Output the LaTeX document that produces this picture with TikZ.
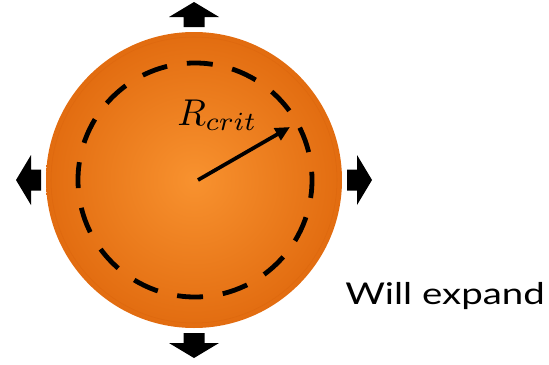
\RequirePackage{fix-cm}
\documentclass[tikz,border=0pt]{standalone}
\usepackage{fontspec}
\newfontfamily\labelfont[FakeStretch=1.28]{Lato}
\usetikzlibrary{arrows.meta,calc}
\definecolor{blobin}{HTML}{F8922F}
\definecolor{blobout}{HTML}{E26C10}
\definecolor{blobring}{HTML}{D9650E}
\tikzset{
  blockarrow/.style={fill=black,draw=none},
  critline/.style={line width=3.6pt,dash pattern=on 19.5pt off 14.95pt,dash phase=6pt},
  radiusarrow/.style={line width=2.8pt,-{Triangle[length=11pt,width=10pt]}}
}
\begin{document}
\begin{tikzpicture}[x=0.75pt,y=-0.75pt]
\useasboundingbox (0,0) rectangle (549,364);
\coordinate (centre) at (194,180);
\shade[inner color=blobin,outer color=blobout] (centre) circle (148);
\draw[blobring,line width=0.4pt,opacity=0.6] (centre) circle (143);
\draw[critline] (195,180) circle (117);
\foreach \ang in {0,90,180,270}
  \fill[blockarrow,rotate around={\ang:(centre)}]
    ($(centre)+(-10.5,-153)$) -- ++(0,-10) -- ++(-14.5,0) -- ($(centre)+(0,-178)$)
    -- ($(centre)+(25,-163)$) -- ++(-14.5,0) -- ++(0,10) -- cycle;
\coordinate (rim) at (290,127);
\draw[radiusarrow] (198,180) -- (rim);
\node[anchor=base west,inner sep=0pt] (rcrit) at (177,125) {\resizebox{60pt}{!}{$R_{crit}$}};
\node[anchor=base west,inner sep=0pt] (expand) at (345,304) {\labelfont\fontsize{22.5}{27}\selectfont Will expand};
\end{tikzpicture}
\end{document}
